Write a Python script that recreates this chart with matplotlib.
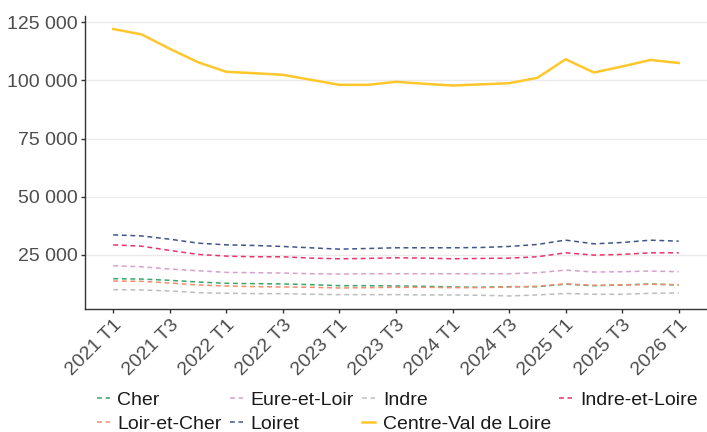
import matplotlib
matplotlib.use("Agg")
import matplotlib.pyplot as plt
import numpy as np

plt.rcParams['font.family'] = ['Liberation Sans', 'DejaVu Sans']

# trimestres 2021 T1 -> 2026 T1
quarters = [f"{y} T{q}" for y in range(2021, 2027) for q in range(1, 5)][:21]

cher = [14700, 14550, 14000, 13280, 12720, 12580, 12430, 12140, 11700, 11700, 11570,
        11430, 11140, 11000, 11280, 11250, 12350, 11700, 12000, 12430, 12000]
eure_et_loir = [20270, 19840, 18850, 18130, 17420, 17280, 17140, 16840, 16700, 16840, 16840,
                16840, 16840, 16840, 16840, 17280, 18400, 17570, 17700, 18000, 17700]
indre = [9990, 9850, 9430, 8700, 8420, 8280, 8280, 8000, 7850, 7850, 7850,
         7710, 7710, 7570, 7280, 7710, 8350, 8000, 8000, 8420, 8570]
indre_et_loire = [29260, 28700, 26860, 25150, 24420, 24130, 24130, 23560, 23270, 23420, 23700,
                  23560, 23270, 23420, 23560, 24130, 25850, 24850, 25150, 25840, 25840]
loir_et_cher = [13710, 13570, 12850, 12000, 11570, 11280, 11140, 11000, 10710, 10850, 11000,
                11000, 10850, 10850, 11140, 11430, 12500, 11850, 12000, 12280, 12140]
loiret = [33550, 33100, 31700, 30000, 29260, 29000, 28570, 27980, 27420, 27700, 28000,
          28000, 28000, 28130, 28570, 29430, 31300, 29700, 30280, 31280, 30850]
centre_val_de_loire = [122100, 119800, 113600, 107800, 103700, 103100, 102400, 100250, 98100, 98100, 99400,
                       98550, 97800, 98300, 98800, 101100, 109100, 103400, 106000, 108800, 107500]

series = [
    ("Cher", cher, "#3aa66a"),
    ("Eure-et-Loir", eure_et_loir, "#d7a1cf"),
    ("Indre", indre, "#bdbdbd"),
    ("Indre-et-Loire", indre_et_loire, "#e8336a"),
    ("Loir-et-Cher", loir_et_cher, "#f58c6e"),
    ("Loiret", loiret, "#3e5689"),
]

fig = plt.figure(figsize=(7.07, 4.32), dpi=100)
ax = fig.add_axes([85 / 707, 1 - 309.3 / 432, 622 / 707, (309.3 - 15.7) / 432])

x = np.arange(len(quarters))
handles = {}
for name, vals, col in series:
    ln, = ax.plot(x, vals, color=col, lw=1.1, dashes=(3.2, 2.4), label=name)
    handles[name] = ln
ln, = ax.plot(x, centre_val_de_loire, color="#ffc72c", lw=1.8, label="Centre-Val de Loire",
              solid_joinstyle="round")
handles["Centre-Val de Loire"] = ln

# limites a la ggplot (5 %)
all_vals = np.concatenate([np.array(v) for _, v, _ in series] + [np.array(centre_val_de_loire)])
lo, hi = all_vals.min(), all_vals.max()
pad = 0.05 * (hi - lo)
ax.set_ylim(lo - pad, hi + pad)
ax.set_xlim(-1, len(quarters))

yt = [25000, 50000, 75000, 100000, 125000]
ax.set_yticks(yt)
ax.set_yticklabels([f"{v:,}".replace(",", " ") for v in yt])
ax.set_xticks(x[::2])
ax.set_xticklabels(quarters[::2])
plt.setp(ax.get_xticklabels(), rotation=45, ha="right", rotation_mode="anchor")

ax.grid(axis="y", color="#ebebeb", lw=1.0)
ax.set_axisbelow(True)
for s in ["top", "right"]:
    ax.spines[s].set_visible(False)
for s in ["left", "bottom"]:
    ax.spines[s].set_color("#333333")
    ax.spines[s].set_linewidth(1.0)
ax.tick_params(axis="both", length=3, width=1, color="#333333", labelcolor="#4d4d4d",
               labelsize=14, pad=2)

order = ["Cher", "Loir-et-Cher", "Eure-et-Loir", "Loiret", "Indre", "Centre-Val de Loire", "Indre-et-Loire"]
fig.legend([handles[k] for k in order], order, ncol=4, loc="upper left",
           bbox_to_anchor=(96.5 / 707, 1 - 391 / 432), frameon=False, fontsize=14,
           handlelength=0.67, handletextpad=0.4, columnspacing=0.42, labelspacing=0.34,
           borderaxespad=0, borderpad=0, labelcolor="#1a1a1a")

fig.savefig("out.png", dpi=100)
